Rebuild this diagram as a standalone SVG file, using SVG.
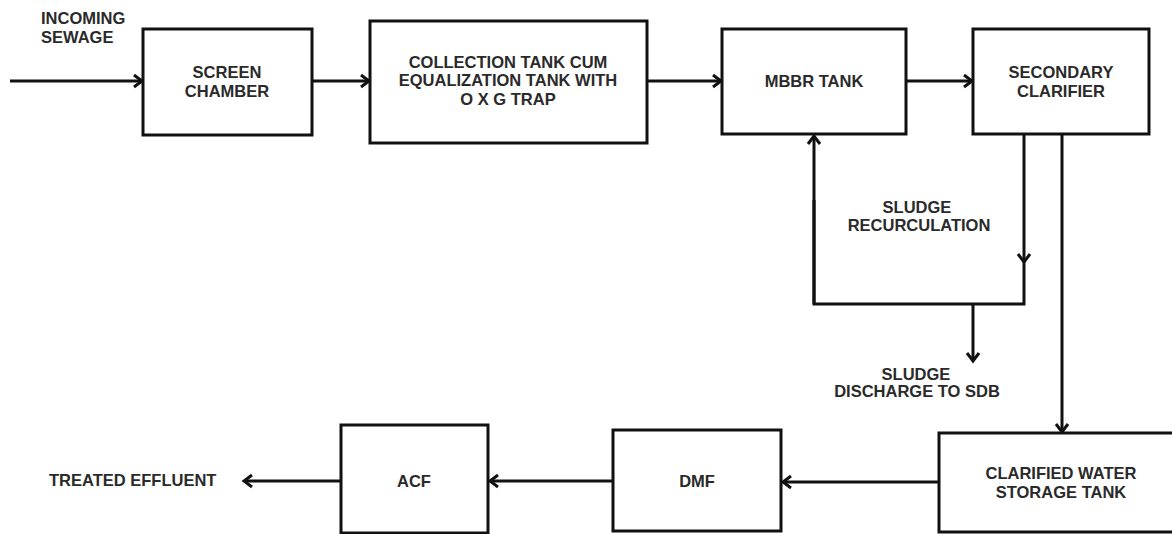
<svg xmlns="http://www.w3.org/2000/svg" width="1172" height="534" viewBox="0 0 1172 534">
<style>
.box{fill:#fff;stroke:#111;stroke-width:3}
.lbl{font-family:"Liberation Sans",Arial,sans-serif;font-weight:bold;font-size:16.5px;fill:#2a2a2a;text-anchor:middle}
.st{text-anchor:start}
.c{fill:none;stroke:#111;stroke-width:3}
.a{marker-end:url(#ah)}
</style>
<defs>
<marker id="ah" markerUnits="userSpaceOnUse" markerWidth="16" markerHeight="16" viewBox="0 0 16 16" refX="12" refY="8" orient="auto">
<path d="M4,2 L12,8 L4,14" fill="none" stroke="#111" stroke-width="3" stroke-linejoin="miter"/>
</marker>
</defs>
<rect width="1172" height="534" fill="#fff"/>
<g id="connectors">
<line class="c a" x1="10" y1="81" x2="142" y2="81"/>
<line class="c a" x1="312" y1="81" x2="369" y2="81"/>
<line class="c a" x1="647" y1="81" x2="721" y2="81"/>
<line class="c a" x1="906" y1="81" x2="972" y2="81"/>
<line class="c a" x1="1024" y1="134" x2="1024" y2="262"/>
<polyline class="c" points="1024,258 1024,304 814,304 814,200"/>
<line class="c a" x1="814" y1="304" x2="814" y2="136"/>
<line class="c a" x1="973" y1="304" x2="973" y2="361"/>
<line class="c a" x1="1062" y1="134" x2="1062" y2="432"/>
<line class="c a" x1="939" y1="482" x2="783" y2="482"/>
<line class="c a" x1="613" y1="481" x2="490" y2="481"/>
<line class="c a" x1="341" y1="481" x2="244" y2="481"/>
</g>
<g id="incoming">
<text class="lbl st" x="41" y="24">INCOMING</text>
<text class="lbl st" x="41" y="43">SEWAGE</text>
</g>
<g id="screen">
<rect class="box" x="143" y="29" width="169" height="106"/>
<text class="lbl" x="227" y="78">SCREEN</text>
<text class="lbl" x="227" y="97">CHAMBER</text>
</g>
<g id="collection">
<rect class="box" x="370" y="21" width="277" height="122"/>
<text class="lbl" x="508" y="68">COLLECTION TANK CUM</text>
<text class="lbl" x="508" y="86">EQUALIZATION TANK WITH</text>
<text class="lbl" x="508" y="105">O X G TRAP</text>
</g>
<g id="mbbr">
<rect class="box" x="722" y="29" width="184" height="105"/>
<text class="lbl" x="814" y="87">MBBR TANK</text>
</g>
<g id="secondary">
<rect class="box" x="973" y="29" width="176" height="105"/>
<text class="lbl" x="1061" y="78">SECONDARY</text>
<text class="lbl" x="1061" y="97">CLARIFIER</text>
</g>
<g id="recirc">
<text class="lbl" x="917" y="213">SLUDGE</text>
<text class="lbl" x="919" y="231">RECURCULATION</text>
</g>
<g id="discharge">
<text class="lbl" x="916" y="380">SLUDGE</text>
<text class="lbl" x="917" y="397">DISCHARGE TO SDB</text>
</g>
<g id="clarified">
<rect class="box" x="939" y="433" width="250" height="99"/>
<text class="lbl" x="1061" y="479">CLARIFIED WATER</text>
<text class="lbl" x="1061" y="498">STORAGE TANK</text>
</g>
<g id="dmf">
<rect class="box" x="613" y="430" width="168" height="101"/>
<text class="lbl" x="697" y="487">DMF</text>
</g>
<g id="acf">
<rect class="box" x="341" y="425" width="147" height="108"/>
<text class="lbl" x="414" y="487">ACF</text>
</g>
<g id="treated">
<text class="lbl st" x="49" y="486">TREATED EFFLUENT</text>
</g>
</svg>
